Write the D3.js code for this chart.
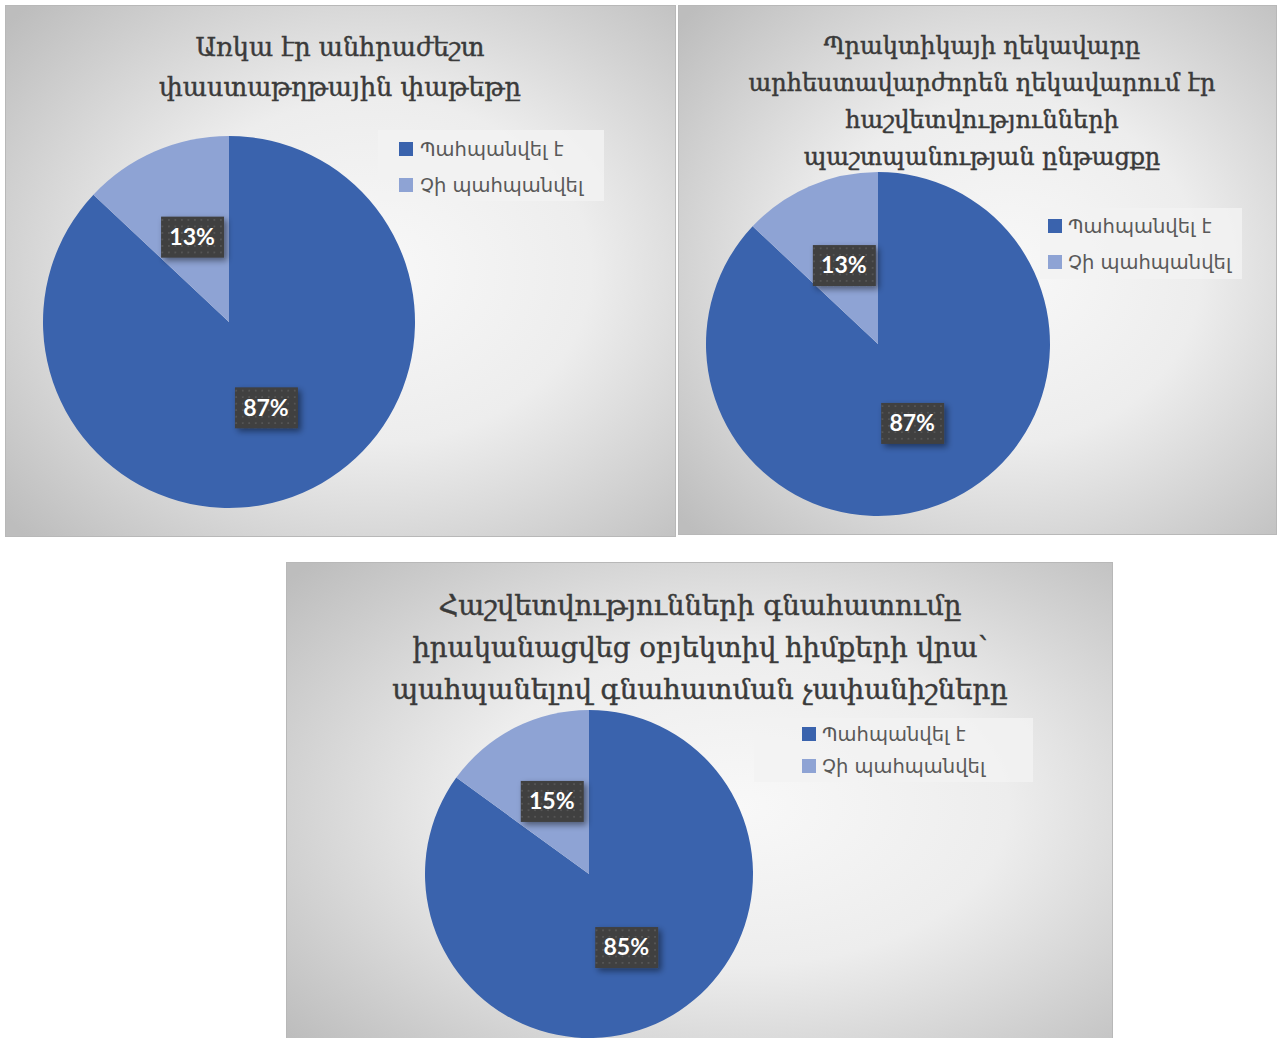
<!DOCTYPE html>
<html>
<head>
<meta charset="utf-8">
<script src="https://cdn.jsdelivr.net/npm/d3@7"></script>
<style>
  html, body { margin: 0; padding: 0; background: #ffffff; }
  svg { display: block; }
</style>
</head>
<body>
<svg id="chart" width="1278" height="1038"></svg>
<script>
// ---------------- DATA ----------------
const categories = ["Պահպանվել է", "Չի պահպանվել"];

const title1 = ["Առկա էր անհրաժեշտ", "փաստաթղթային փաթեթը"];
const values1 = [87, 13];

const title2 = ["Պրակտիկայի ղեկավարը", "արհեստավարժորեն ղեկավարում էր", "հաշվետվությունների", "պաշտպանության ընթացքը"];
const values2 = [87, 13];

const title3 = ["Հաշվետվությունների գնահատումը", "իրականացվեց օբյեկտիվ հիմքերի վրա՝", "պահպանելով գնահատման չափանիշները"];
const values3 = [85, 15];

// ---------------- LAYOUT / STYLE ----------------
const colors = ["#3a63ad", "#8ea3d4"];
const layouts = [
  { title: title1, values: values1,
    box: { x: 5, y: 5, w: 671, h: 532 },
    pie: { cx: 229, cy: 322, r: 186 },
    titleY: 56, titleDy: 40, titleSize: 25.5, titleX: 340,
    legend: { x: 378, y: 130, w: 226, h: 71, sx: 399, sy: 142, tx: 420, dy: 36, size: 19.5 } },
  { title: title2, values: values2,
    box: { x: 678, y: 5, w: 599, h: 530 },
    pie: { cx: 878, cy: 344, r: 172 },
    titleY: 54, titleDy: 37, titleSize: 24, titleX: 982,
    legend: { x: 1040, y: 208, w: 202, h: 71, sx: 1048, sy: 219, tx: 1068, dy: 36, size: 19.5 } },
  { title: title3, values: values3,
    box: { x: 286, y: 562, w: 827, h: 490 },
    pie: { cx: 589, cy: 874, r: 164 },
    titleY: 615, titleDy: 42, titleSize: 27.5, titleX: 700,
    legend: { x: 754, y: 718, w: 279, h: 64, sx: 802, sy: 727, tx: 822, dy: 32, size: 19.5 } }
];

const svg = d3.select("#chart");
const defs = svg.append("defs");

const grad = defs.append("radialGradient").attr("id", "bg")
  .attr("cx", "55%").attr("cy", "50%").attr("r", "72%");
grad.append("stop").attr("offset", "0%").attr("stop-color", "#f8f8f8");
grad.append("stop").attr("offset", "45%").attr("stop-color", "#ededed");
grad.append("stop").attr("offset", "100%").attr("stop-color", "#bdbdbd");

const pat = defs.append("pattern").attr("id", "dots")
  .attr("width", 6.5).attr("height", 6.5).attr("patternUnits", "userSpaceOnUse");
pat.append("rect").attr("width", 6.5).attr("height", 6.5).attr("fill", "#3f3f3f");
pat.append("rect").attr("x", 2).attr("y", 2).attr("width", 1.6).attr("height", 1.6).attr("fill", "#5c5c5c");

const shadow = defs.append("filter").attr("id", "shadow")
  .attr("x", "-30%").attr("y", "-30%").attr("width", "170%").attr("height", "170%");
shadow.append("feDropShadow").attr("dx", 3).attr("dy", 3).attr("stdDeviation", 3)
  .attr("flood-color", "#000").attr("flood-opacity", 0.45);

const pie = d3.pie().sort(null).value(d => d);
const fmt = v => v + "%";

layouts.forEach(L => {
  const g = svg.append("g");
  g.append("rect")
    .attr("x", L.box.x + 0.5).attr("y", L.box.y + 0.5)
    .attr("width", L.box.w - 1).attr("height", L.box.h - 1)
    .attr("fill", "url(#bg)").attr("stroke", "#b8b8b8").attr("stroke-width", 1);

  // Title
  g.append("text")
    .attr("text-anchor", "middle")
    .attr("font-family", "'DejaVu Serif', serif")
    .attr("font-size", L.titleSize)
    .attr("fill", "#3a3a3a")
    .attr("stroke", "#3a3a3a").attr("stroke-width", 0.45)
    .selectAll("tspan").data(L.title).join("tspan")
    .attr("x", L.titleX)
    .attr("y", (d, i) => L.titleY + i * L.titleDy)
    .text(d => d);

  // Pie
  const arc = d3.arc().innerRadius(0).outerRadius(L.pie.r);
  const arcs = pie(L.values);
  const pg = g.append("g").attr("transform", `translate(${L.pie.cx},${L.pie.cy})`);
  pg.selectAll("path").data(arcs).join("path")
    .attr("d", arc).attr("fill", (d, i) => colors[i]);

  // Labels
  const lab = pg.selectAll("g.lab").data(arcs).join("g").attr("class", "lab")
    .attr("transform", d => `translate(${arc.centroid(d)})`);
  lab.append("rect")
    .attr("x", -31).attr("y", -20).attr("width", 63).attr("height", 41)
    .attr("fill", "url(#dots)").attr("filter", "url(#shadow)");
  lab.append("text")
    .attr("text-anchor", "middle").attr("dy", "0.36em")
    .attr("font-family", "Lato, 'Open Sans', sans-serif")
    .attr("font-weight", "bold").attr("font-size", 23)
    .attr("fill", "#ffffff")
    .text(d => fmt(d.data));

  // Legend
  const lg = g.append("g");
  lg.append("rect").attr("x", L.legend.x).attr("y", L.legend.y)
    .attr("width", L.legend.w).attr("height", L.legend.h)
    .attr("fill", "#f2f2f2").attr("opacity", 0.85);
  const items = lg.selectAll("g.item").data(categories).join("g").attr("class", "item");
  items.append("rect")
    .attr("x", L.legend.sx).attr("y", (d, i) => L.legend.sy + i * L.legend.dy)
    .attr("width", 14).attr("height", 14)
    .attr("fill", (d, i) => colors[i]);
  items.append("text")
    .attr("x", L.legend.tx).attr("y", (d, i) => L.legend.sy + 7 + i * L.legend.dy)
    .attr("dy", "0.35em")
    .attr("font-family", "'DejaVu Sans', sans-serif")
    .attr("font-size", L.legend.size)
    .attr("fill", "#595959")
    .text(d => d);
});
</script>
</body>
</html>
